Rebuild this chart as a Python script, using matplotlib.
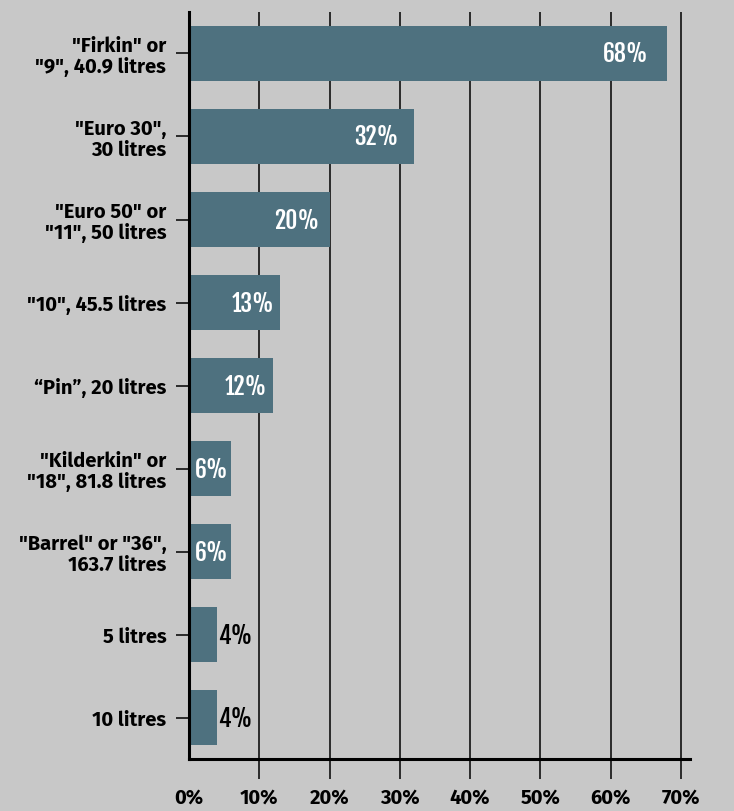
import matplotlib
matplotlib.use("Agg")
import matplotlib.pyplot as plt

# Data: share of casks by size
categories = ['"Firkin" or\n"9", 40.9 litres', '"Euro 30",\n30 litres', '"Euro 50" or\n"11", 50 litres',
              '"10", 45.5 litres', '\u201cPin\u201d, 20 litres', '"Kilderkin" or\n"18", 81.8 litres',
              '"Barrel" or "36",\n163.7 litres', '5 litres', '10 litres']
values = [68, 32, 20, 13, 12, 6, 6, 4, 4]
xticks = [0, 10, 20, 30, 40, 50, 60, 70]
xtick_labels = ['0%', '10%', '20%', '30%', '40%', '50%', '60%', '70%']

bg = '#c8c8c8'
bar_color = '#4e717f'

label_font = ['Fira Sans', 'Liberation Sans', 'DejaVu Sans']
tick_font = ['Fira Sans', 'Liberation Sans', 'DejaVu Sans']
value_font = ['Fjalla One', 'Liberation Sans', 'DejaVu Sans']
plt.rcParams['font.family'] = tick_font

fig = plt.figure(figsize=(7.34, 8.12), dpi=100, facecolor=bg)
ax = fig.add_axes([0.2575, 0.064, 0.6825, 0.920], facecolor=bg)

ypos = list(range(len(values)))
ax.barh(ypos, values, height=0.67, color=bar_color, zorder=2)

ax.set_xlim(0, 71.3)
ax.set_ylim(8.5, -0.5)

# grid lines reach below the axis like long ticks
ax.set_xticks(xticks)
ax.set_xticklabels(xtick_labels, fontsize=14.5, fontweight='bold', family=tick_font)
ax.grid(axis='x', color='black', linewidth=1.1, zorder=1)
ax.tick_params(axis='x', length=14.4, width=1.1, pad=6, color='black')
ax.xaxis.get_major_ticks()[0].tick1line.set_visible(False)

ax.set_yticks(ypos)
ax.set_yticklabels(categories, fontsize=14.5, fontweight='bold', linespacing=1.05, family=label_font)
ax.tick_params(axis='y', length=9.4, width=1.1, pad=7, color='black')

for s in ['top', 'right']:
    ax.spines[s].set_visible(False)
for s in ['left', 'bottom']:
    ax.spines[s].set_linewidth(2.2)
    ax.spines[s].set_zorder(3)

# value labels
for y, v in zip(ypos, values):
    if v >= 6:
        pad = min(2.6, 0.07 * v)
        ax.text(v - pad, y, f'{v}%', ha='right', va='center', color='white',
                fontsize=17, family=value_font, zorder=4)
    else:
        ax.text(v + 0.1, y, f'{v}%', ha='left', va='center', color='black',
                fontsize=17, family=value_font, zorder=4)

fig.savefig('out.png', dpi=100, facecolor=bg)
